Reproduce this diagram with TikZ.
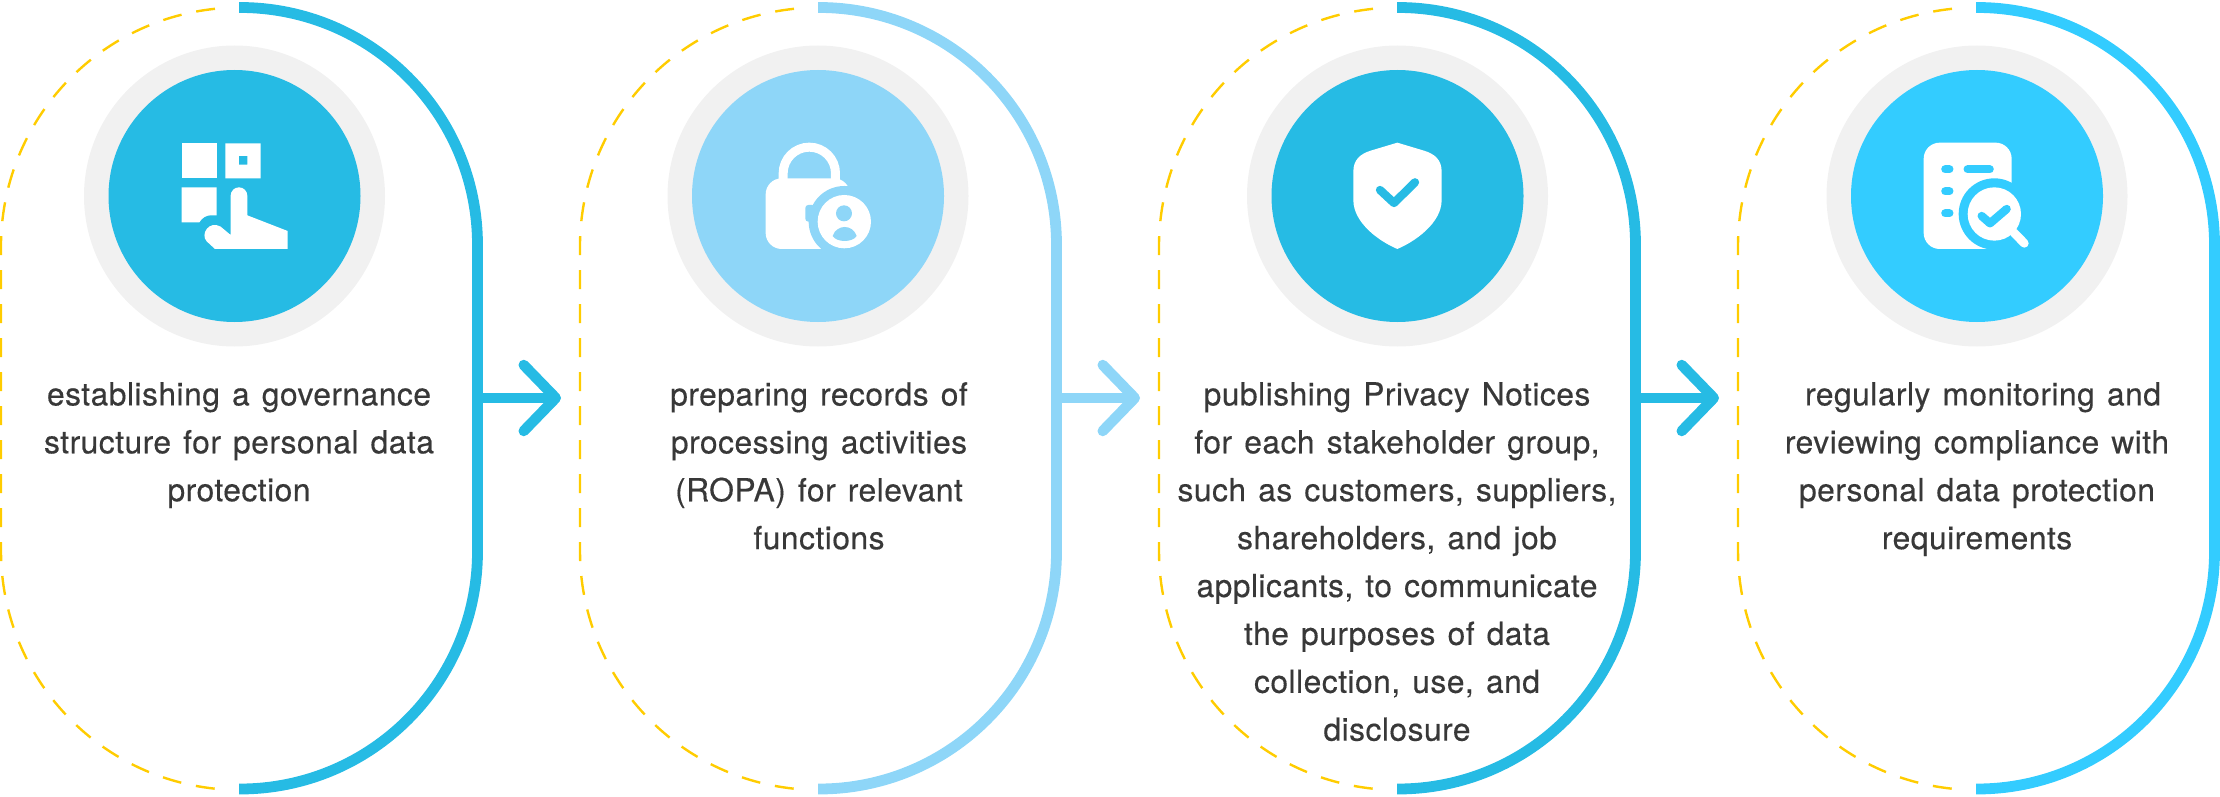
\documentclass[tikz,border=0pt]{standalone}
\usepackage{fontspec}
\setmainfont[WordSpace=1.3,FakeBold=0.35,LetterSpace=1.5]{TeX Gyre Heros}
\usetikzlibrary{arrows.meta,positioning}
\definecolor{stepblue}{HTML}{26BBE4}
\definecolor{steplight}{HTML}{8ED6F8}
\definecolor{stepcyan}{HTML}{33CCFF}
\definecolor{ringgray}{HTML}{F1F1F1}
\definecolor{dashyellow}{HTML}{FFCC00}
\definecolor{bodytext}{HTML}{383838}

\begin{document}
\begin{tikzpicture}[
    x=1pt,y=1pt,
    halfdash/.style={draw=dashyellow,line width=2.4pt,dash pattern=on 19pt off 15pt},
    halfsolid/.style={line width=10.8pt},
    ringdisc/.style={circle,fill=ringgray,minimum size=301pt,inner sep=0pt},
    icondisc/.style={circle,minimum size=252pt,inner sep=0pt},
    flowarrow/.style={line width=10.5pt,-{Straight Barb[length=32pt,width=66pt,round]}},
    steptext/.style={text=bodytext,font=\fontsize{31.8}{47.9}\selectfont,align=center,anchor=north,inner sep=0pt},
    iconscope/.style={x=0.3333pt,y=0.3333pt}
]
    \useasboundingbox (0,0) rectangle (2220,-797);

    % Half capsules and arrows
    \foreach \i/\col in {0/stepblue,1/steplight,2/stepblue,3/stepcyan}{
        \begin{scope}[xshift=\i*579pt]
            \draw[halfdash] (215,-8.8) arc[start angle=96,end angle=180,radius=239] -- (1,-551)
                arc[start angle=180,end angle=264,radius=239];
            \draw[halfsolid,draw=\col] (239,-7.5) -- (240,-7.5) arc[start angle=90,end angle=0,radius=237.5]
                -- (477.5,-551.5) arc[start angle=0,end angle=-90,radius=237.5] -- (239,-789);
            \coordinate (out\i) at (477.5,-398);
            \coordinate (in\i) at (561,-398);
        \end{scope}
    }
    \draw[flowarrow,draw=stepblue] (out0) -- (in0);
    \draw[flowarrow,draw=steplight] (out1) -- (in1);
    \draw[flowarrow,draw=stepblue] (out2) -- (in2);

    % Discs
    \node[ringdisc] (ring0) at (234.5,-196) {};
    \node[ringdisc] (ring1) at (818,-196) {};
    \node[ringdisc] (ring2) at (1397.5,-196) {};
    \node[ringdisc] (ring3) at (1977,-196) {};
    \node[icondisc,fill=stepblue] (disc0) at (ring0) {};
    \node[icondisc,fill=steplight] (disc1) at (ring1) {};
    \node[icondisc,fill=stepblue] (disc2) at (ring2) {};
    \node[icondisc,fill=stepcyan] (disc3) at (ring3) {};

    % Grid and hand
    \begin{scope}[shift={(160,-130)},iconscope]
        \fill[white] (65,-40) rectangle (170,-145);
        \fill[white,even odd rule] (196,-40) rectangle (302,-145) (237,-78) rectangle (262,-104);
        \fill[white] (65,-172) -- (170,-172) -- (170,-256) -- (152,-256)
            .. controls (138,-256) and (126,-264) .. (118,-277) -- (65,-277) -- cycle;
        \fill[white] (212,-197) arc[start angle=180,end angle=0,radius=25] -- (262,-256) -- (383,-303)
            -- (383,-357) -- (165,-357) -- (140,-334)
            .. controls (120,-312) and (148,-270) .. (182,-290) -- (212,-315) -- cycle;
    \end{scope}

    % Lock and user
    \begin{scope}[shift={(700,-80)},iconscope]
        \draw[white,line width=9pt] (249.5,-300) -- (249.5,-280) arc[start angle=180,end angle=0,radius=78.5] -- (406.5,-300);
        \fill[white,rounded corners=16pt] (197,-295) rectangle (450,-507);
        \fill[steplight,rounded corners=3pt] (316,-375) rectangle (345,-425);
        \fill[steplight] (433,-425) circle[radius=107];
        \fill[white] (433,-425) circle[radius=80];
        \fill[steplight] (432,-400) circle[radius=24];
        \fill[steplight] (398,-468) .. controls (410,-432) and (458,-432) .. (470,-468)
            .. controls (458,-488) and (410,-488) .. cycle;
    \end{scope}

    % Shield
    \begin{scope}[shift={(1300,-100)},iconscope]
        \fill[white] (292,-128) -- (212,-152) .. controls (180,-162) and (160,-180) .. (160,-215) -- (160,-300)
            .. controls (160,-370) and (240,-425) .. (292,-447)
            .. controls (344,-425) and (425,-370) .. (425,-300) -- (425,-215)
            .. controls (425,-180) and (405,-162) .. (372,-152) -- cycle;
        \draw[stepblue,line width=8.3pt,line cap=round,line join=round] (240,-270) -- (282,-309) -- (345,-247);
    \end{scope}

    % List and magnifier
    \begin{scope}[shift={(1890,-110)},iconscope]
        \fill[white,rounded corners=16pt] (101,-98) rectangle (365,-417);
        \foreach \rowy in {178,244,310}{
            \draw[stepcyan,line width=8.3pt,line cap=round] (166,-\rowy) -- (178,-\rowy);
        }
        \draw[stepcyan,line width=8.3pt,line cap=round] (233,-178) -- (299,-178);
        \fill[stepcyan] (313,-312) circle[radius=107];
        \fill[white] (313,-312) circle[radius=80];
        \draw[white,line width=8.7pt,line cap=round] (372,-368) -- (403,-400);
        \draw[stepcyan,line width=8.3pt,line cap=round,line join=round] (275,-318) -- (300,-340) -- (350,-297);
    \end{scope}

    % Labels
    \node[steptext] (label0) at (239,-382) {establishing a governance\\structure for personal data\\protection};
    \node[steptext] (label1) at (819,-382) {preparing records of\\processing activities\\(ROPA) for relevant\\functions};
    \node[steptext] (label2) at (1397,-382) {publishing Privacy Notices\\for each stakeholder group,\\such as customers, suppliers,\\shareholders, and job\\applicants, to communicate\\the purposes of data\\collection, use, and\\disclosure};
    \node[steptext] (label3) at (1977,-382) {\hspace*{12pt}regularly monitoring and\\reviewing compliance with\\personal data protection\\requirements};
\end{tikzpicture}
\end{document}
